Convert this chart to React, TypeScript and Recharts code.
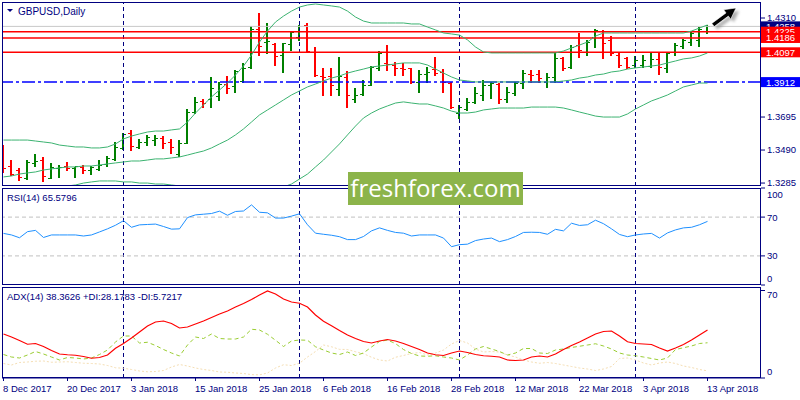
import React from "react";
import { ComposedChart, Line, Bar, XAxis, YAxis, ReferenceLine } from "recharts";

// ---- data ----
const tickBars = [0, 8, 16, 24, 32, 40, 48, 56, 64, 72, 80, 88];
const tickLabels = [
  "8 Dec 2017", "20 Dec 2017", "3 Jan 2018", "15 Jan 2018", "25 Jan 2018", "6 Feb 2018",
  "16 Feb 2018", "28 Feb 2018", "12 Mar 2018", "22 Mar 2018", "3 Apr 2018", "13 Apr 2018",
];
const separatorBars = [15, 37, 57, 79];

const open = [
  1.3490, 1.3391, 1.3366, 1.3317, 1.3410, 1.3428, 1.3317, 1.3379, 1.3391, 1.3379,
  1.3385, 1.3366, 1.3373, 1.3404, 1.3435, 1.3503, 1.3596, 1.3509, 1.3540, 1.3552,
  1.3565, 1.3540, 1.3466, 1.3534, 1.3726, 1.3795, 1.3807, 1.3826, 1.3900, 1.3888,
  1.3919, 1.4006, 1.4242, 1.4161, 1.4149, 1.4080, 1.4149, 1.4192, 1.4267, 1.4099,
  1.3950, 1.3950, 1.3869, 1.3944, 1.3807, 1.3838, 1.3894, 1.4000, 1.4031, 1.4018,
  1.4000, 1.4000, 1.3913, 1.3962, 1.3993, 1.3975, 1.3906, 1.3720, 1.3745, 1.3789,
  1.3832, 1.3894, 1.3900, 1.3807, 1.3844, 1.3906, 1.3962, 1.3962, 1.3913, 1.3944,
  1.4062, 1.4006, 1.4142, 1.4099, 1.4192, 1.4192, 1.4174, 1.4080, 1.4062, 1.4018,
  1.4018, 1.4012, 1.4056, 1.4000, 1.4099, 1.4136, 1.4161, 1.4174, 1.4229,
];
const high = [
  1.3521, 1.3428, 1.3379, 1.3428, 1.3466, 1.3447, 1.3410, 1.3397, 1.3416, 1.3385,
  1.3397, 1.3391, 1.3428, 1.3453, 1.3540, 1.3596, 1.3615, 1.3559, 1.3584, 1.3584,
  1.3577, 1.3559, 1.3552, 1.3745, 1.3820, 1.3807, 1.3944, 1.3913, 1.3950, 1.3987,
  1.4031, 1.4260, 1.4341, 1.4279, 1.4155, 1.4155, 1.4223, 1.4267, 1.4279, 1.4130,
  1.4000, 1.4000, 1.4068, 1.3981, 1.3875, 1.3925, 1.4012, 1.4105, 1.4142, 1.4037,
  1.4031, 1.4000, 1.3987, 1.4006, 1.4068, 1.3993, 1.3913, 1.3770, 1.3813, 1.3882,
  1.3925, 1.3913, 1.3906, 1.3882, 1.3913, 1.3987, 1.3987, 1.3987, 1.3968, 1.4093,
  1.4068, 1.4142, 1.4217, 1.4174, 1.4242, 1.4236, 1.4198, 1.4093, 1.4068, 1.4074,
  1.4080, 1.4093, 1.4093, 1.4099, 1.4155, 1.4180, 1.4223, 1.4254, 1.4267,
];
const low = [
  1.3354, 1.3335, 1.3304, 1.3310, 1.3391, 1.3298, 1.3317, 1.3323, 1.3366, 1.3323,
  1.3348, 1.3341, 1.3366, 1.3391, 1.3428, 1.3497, 1.3490, 1.3503, 1.3521, 1.3521,
  1.3503, 1.3472, 1.3453, 1.3534, 1.3720, 1.3757, 1.3757, 1.3801, 1.3844, 1.3851,
  1.3913, 1.4000, 1.4080, 1.4093, 1.4018, 1.3975, 1.4111, 1.4174, 1.4099, 1.3950,
  1.3832, 1.3832, 1.3832, 1.3757, 1.3789, 1.3832, 1.3894, 1.3987, 1.3987, 1.3956,
  1.3956, 1.3906, 1.3851, 1.3913, 1.3956, 1.3851, 1.3751, 1.3689, 1.3739, 1.3782,
  1.3801, 1.3813, 1.3782, 1.3789, 1.3832, 1.3875, 1.3913, 1.3913, 1.3882, 1.3913,
  1.3987, 1.4000, 1.4068, 1.4080, 1.4130, 1.4062, 1.4080, 1.4006, 1.4000, 1.4006,
  1.4006, 1.4006, 1.3962, 1.3975, 1.4080, 1.4124, 1.4142, 1.4136, 1.4217,
];
const close = [
  1.3379, 1.3341, 1.3323, 1.3416, 1.3422, 1.3329, 1.3385, 1.3385, 1.3379, 1.3391,
  1.3366, 1.3385, 1.3397, 1.3441, 1.3509, 1.3590, 1.3515, 1.3540, 1.3571, 1.3565,
  1.3534, 1.3509, 1.3534, 1.3726, 1.3789, 1.3782, 1.3875, 1.3900, 1.3875, 1.3981,
  1.4000, 1.4242, 1.4136, 1.4167, 1.4074, 1.4155, 1.4223, 1.4229, 1.4105, 1.3956,
  1.3944, 1.3894, 1.3950, 1.3832, 1.3832, 1.3894, 1.4006, 1.4093, 1.4025, 1.4000,
  1.3993, 1.3913, 1.3962, 1.3975, 1.3968, 1.3913, 1.3757, 1.3757, 1.3789, 1.3844,
  1.3894, 1.3906, 1.3807, 1.3851, 1.3906, 1.3968, 1.3956, 1.3937, 1.3944, 1.4062,
  1.4000, 1.4130, 1.4111, 1.4161, 1.4236, 1.4155, 1.4093, 1.4018, 1.4006, 1.4049,
  1.4049, 1.4056, 1.4006, 1.4093, 1.4142, 1.4174, 1.4217, 1.4242, 1.4258,
];

const bbUpper = [
  1.3552, 1.3552, 1.3552, 1.3552, 1.3546, 1.3540, 1.3534, 1.3521, 1.3515, 1.3509,
  1.3509, 1.3503, 1.3503, 1.3509, 1.3528, 1.3559, 1.3577, 1.3590, 1.3602, 1.3608,
  1.3608, 1.3615, 1.3621, 1.3664, 1.3720, 1.3770, 1.3820, 1.3863, 1.3906, 1.3956,
  1.4012, 1.4080, 1.4161, 1.4229, 1.4285, 1.4322, 1.4353, 1.4378, 1.4391, 1.4397,
  1.4391, 1.4385, 1.4378, 1.4353, 1.4316, 1.4291, 1.4279, 1.4279, 1.4279, 1.4279,
  1.4279, 1.4273, 1.4273, 1.4254, 1.4236, 1.4217, 1.4211, 1.4204, 1.4174, 1.4130,
  1.4099, 1.4093, 1.4093, 1.4093, 1.4093, 1.4093, 1.4093, 1.4093, 1.4093, 1.4093,
  1.4105, 1.4124, 1.4142, 1.4161, 1.4198, 1.4217, 1.4217, 1.4217, 1.4217, 1.4217,
  1.4217, 1.4217, 1.4217, 1.4217, 1.4217, 1.4217, 1.4229, 1.4248, 1.4267,
];
const bbMiddle = [
  1.3323, 1.3329, 1.3341, 1.3348, 1.3354, 1.3366, 1.3373, 1.3379, 1.3385, 1.3385,
  1.3391, 1.3391, 1.3397, 1.3404, 1.3410, 1.3416, 1.3422, 1.3422, 1.3428, 1.3435,
  1.3435, 1.3441, 1.3447, 1.3459, 1.3472, 1.3484, 1.3503, 1.3528, 1.3552, 1.3584,
  1.3621, 1.3664, 1.3708, 1.3739, 1.3770, 1.3801, 1.3832, 1.3857, 1.3882, 1.3900,
  1.3919, 1.3937, 1.3950, 1.3968, 1.3981, 1.3993, 1.4006, 1.4012, 1.4018, 1.4025,
  1.4031, 1.4031, 1.4031, 1.4018, 1.3993, 1.3968, 1.3944, 1.3925, 1.3919, 1.3913,
  1.3913, 1.3913, 1.3913, 1.3913, 1.3913, 1.3913, 1.3913, 1.3913, 1.3913, 1.3913,
  1.3919, 1.3925, 1.3937, 1.3944, 1.3956, 1.3962, 1.3975, 1.3981, 1.3993, 1.4000,
  1.4006, 1.4012, 1.4018, 1.4031, 1.4043, 1.4056, 1.4062, 1.4074, 1.4093,
];
const bbLower = [
  1.3211, 1.3223, 1.3229, 1.3236, 1.3242, 1.3248, 1.3254, 1.3261, 1.3267, 1.3273,
  1.3285, 1.3292, 1.3298, 1.3298, 1.3298, 1.3292, 1.3292, 1.3285, 1.3285, 1.3279,
  1.3279, 1.3273, 1.3267, 1.3254, 1.3229, 1.3205, 1.3180, 1.3161, 1.3149, 1.3143,
  1.3149, 1.3161, 1.3186, 1.3217, 1.3242, 1.3261, 1.3279, 1.3310, 1.3341, 1.3385,
  1.3428, 1.3478, 1.3528, 1.3584, 1.3639, 1.3689, 1.3720, 1.3745, 1.3764, 1.3782,
  1.3789, 1.3782, 1.3776, 1.3776, 1.3764, 1.3751, 1.3732, 1.3720, 1.3720, 1.3726,
  1.3739, 1.3745, 1.3751, 1.3751, 1.3751, 1.3751, 1.3757, 1.3757, 1.3757, 1.3757,
  1.3751, 1.3739, 1.3726, 1.3714, 1.3701, 1.3695, 1.3695, 1.3695, 1.3714, 1.3745,
  1.3770, 1.3795, 1.3813, 1.3832, 1.3857, 1.3882, 1.3894, 1.3906, 1.3906,
];

const rsi = [
  53.2, 51.6, 48.7, 55.0, 56.3, 49.0, 51.6, 51.6, 51.6, 51.6,
  50.5, 51.6, 54.7, 57.9, 61.6, 66.3, 59.5, 62.0, 62.4, 62.8,
  60.3, 57.6, 57.9, 69.5, 72.3, 73.0, 73.7, 76.1, 71.9, 75.8,
  76.3, 82.6, 75.0, 74.4, 69.0, 69.0, 71.0, 73.4, 62.1, 53.4,
  52.3, 51.3, 49.8, 46.8, 46.8, 50.0, 55.8, 58.9, 56.3, 54.2,
  53.4, 50.5, 51.6, 51.6, 51.6, 48.4, 39.5, 41.6, 42.1, 45.8,
  47.4, 48.4, 44.7, 46.8, 50.0, 54.2, 54.4, 54.2, 52.3, 57.4,
  55.8, 63.7, 61.4, 62.1, 66.8, 63.2, 57.9, 52.1, 49.8, 51.6,
  52.6, 53.2, 48.4, 53.7, 56.8, 58.9, 59.5, 62.1, 65.58,
];
const adx = [
  35.2, 32.8, 30.0, 27.0, 27.6, 25.2, 22.0, 19.2, 18.6, 18.2,
  17.2, 15.8, 16.4, 18.4, 23.8, 27.6, 32.0, 36.8, 41.6, 44.8,
  45.6, 43.6, 40.0, 40.8, 43.2, 45.6, 48.4, 51.2, 53.6, 56.8,
  59.6, 62.8, 66.4, 69.6, 67.2, 63.2, 60.8, 59.8, 56.8, 50.4,
  45.4, 41.8, 38.0, 34.4, 31.6, 29.2, 28.0, 29.6, 30.8, 29.6,
  27.6, 25.2, 22.8, 20.0, 18.6, 18.0, 20.0, 21.6, 20.4, 18.8,
  17.8, 17.4, 16.8, 14.4, 14.0, 14.4, 16.8, 17.6, 16.8, 19.2,
  22.8, 26.0, 28.8, 32.0, 35.2, 37.2, 37.6, 33.6, 29.0, 27.6,
  27.2, 26.8, 24.0, 21.6, 24.0, 26.8, 30.4, 34.4, 38.36,
];
const plusDi = [
  18.8, 16.8, 16.0, 18.4, 21.2, 19.2, 16.8, 14.4, 16.4, 16.0,
  15.2, 16.0, 18.8, 22.4, 28.8, 33.6, 33.6, 28.0, 28.6, 26.0,
  22.8, 20.0, 17.6, 26.4, 32.8, 31.6, 35.2, 31.6, 31.2, 31.2,
  32.8, 39.0, 38.4, 35.0, 30.2, 25.2, 29.6, 30.4, 30.2, 25.0,
  22.4, 20.0, 18.8, 20.8, 18.0, 20.0, 24.8, 29.2, 30.4, 27.5,
  22.8, 19.6, 17.6, 17.4, 17.8, 16.8, 16.0, 14.4, 18.4, 23.2,
  25.2, 23.2, 21.2, 18.4, 20.0, 23.6, 23.6, 20.0, 19.6, 22.4,
  23.2, 24.4, 25.4, 26.4, 27.4, 25.6, 23.2, 20.0, 18.4, 17.8,
  16.8, 15.6, 14.4, 16.0, 22.8, 24.2, 25.6, 27.6, 28.18,
];
const minusDi = [
  11.6, 10.4, 12.4, 12.8, 13.4, 13.6, 12.6, 12.8, 13.0, 12.4,
  11.8, 11.6, 11.2, 10.0, 8.2, 7.8, 6.8, 5.6, 5.0, 5.2,
  6.0, 8.8, 10.8, 9.6, 8.0, 6.8, 6.0, 4.8, 4.6, 4.0,
  3.6, 2.7, 2.5, 4.0, 8.0, 10.6, 10.0, 11.8, 16.8, 21.2,
  26.4, 25.0, 22.9, 22.8, 21.0, 19.5, 16.6, 14.4, 13.6, 16.6,
  18.0, 19.6, 20.4, 18.4, 20.0, 22.4, 27.2, 30.0, 28.0, 23.2,
  20.8, 21.2, 20.8, 18.4, 16.8, 14.4, 12.8, 11.8, 12.4, 11.6,
  10.4, 9.2, 8.0, 7.2, 6.0, 7.2, 9.2, 15.6, 16.0, 14.4,
  12.0, 10.4, 12.0, 12.8, 11.6, 9.6, 8.4, 6.8, 5.72,
];

const priceTicks = [1.3285, 1.349, 1.3695, 1.431];
const bidPrice = 1.4258;
const redLevels = [1.4225, 1.4186, 1.4097];
const blueLevel = 1.3912;
const rsiTicks = [0, 30, 70, 100];
const adxTicks = [0, 70];

const titleText = "GBPUSD,Daily";
const rsiText = "RSI(14) 65.5796";
const adxText = "ADX(14) 38.3626 +DI:28.1783 -DI:5.7217";

// ---- styles ----
const FONT = "'Liberation Sans', Arial, sans-serif";
const FS = 9.5;
const NAVY = "#000080";
const UP = "#008000";
const DOWN = "#ff0000";
const BB = "#3cb371";
// bar i sits at x = 3.5 + 8i so 1px separators land on a pixel centre
const X_DOMAIN: [number, number] = [-0.1875, 94.6875];
const AXIS_W = 39;

const priceData = open.map((o, i) => ({
  i,
  open: o,
  high: high[i],
  low: low[i],
  close: close[i],
  range: [low[i], high[i]],
  up: bbUpper[i],
  mid: bbMiddle[i],
  lo: bbLower[i],
}));
const rsiData = rsi.map((v, i) => ({ i, rsi: v }));
const adxData = adx.map((v, i) => ({ i, adx: v, pdi: plusDi[i], mdi: minusDi[i] }));

function OhlcBar(props: any) {
  const { x, y, width, height, payload } = props;
  if (!payload || x == null || y == null) return null;
  const top = Math.min(y, y + height);
  const bottom = Math.max(y, y + height);
  const span = payload.high - payload.low;
  const at = (v: number) => (span > 0 ? top + ((payload.high - v) / span) * (bottom - top) : top);
  const cx = Math.floor(x + width / 2);
  const color = payload.close >= payload.open ? UP : DOWN;
  const oy = Math.round(at(payload.open)) + 0.5;
  const cy = Math.round(at(payload.close)) + 0.5;
  return (
    <g>
      <line x1={cx} x2={cx} y1={Math.round(top)} y2={Math.round(bottom) + 1} stroke={color} strokeWidth={2} />
      <line x1={cx - 3} x2={cx} y1={oy} y2={oy} stroke={color} strokeWidth={1} />
      <line x1={cx} x2={cx + 3} y1={cy} y2={cy} stroke={color} strokeWidth={1} />
    </g>
  );
}

function PriceTag(props: any) {
  const { viewBox, price, color } = props;
  if (!viewBox) return null;
  const left = viewBox.x + viewBox.width;
  const y = viewBox.y;
  return (
    <g>
      <rect x={left} y={y - 5} width={AXIS_W} height={10} fill={color} />
      <text x={left + 5} y={y} dy="0.36em" fill="#ffffff" fontSize={FS} fontFamily={FONT}>
        {price.toFixed(4)}
      </text>
    </g>
  );
}

const makeTick = (offsets: Record<string, number>, fmt: (v: number) => string) => (props: any) => {
  const { x, y, payload } = props;
  const dy = offsets[String(payload.value)] ?? 0;
  return (
    <text x={x} y={y + dy} dy="0.36em" fill={NAVY} fontSize={FS} fontFamily={FONT} textAnchor="start">
      {fmt(payload.value)}
    </text>
  );
};
const PriceTick = makeTick({}, (v) => v.toFixed(4));
const RsiTick = makeTick({ "100": 7, "0": -6 }, (v) => String(v));
const AdxTick = makeTick({ "70": 4, "0": -6 }, (v) => String(v));

function DateTick(props: any) {
  const { x, y, payload } = props;
  const k = tickBars.indexOf(payload.value);
  return (
    <text x={x - 0.5} y={y} dy={9} fill={NAVY} fontSize={FS} fontFamily={FONT} textAnchor="start">
      {tickLabels[k]}
    </text>
  );
}

const separators = (key: string) =>
  separatorBars.map((b) => (
    <ReferenceLine key={key + b} x={b} stroke={NAVY} strokeDasharray="4 3" strokeWidth={1} />
  ));

const yAxisCommon = {
  orientation: "right" as const,
  width: AXIS_W,
  axisLine: false,
  tickSize: 4,
  tickLine: { stroke: NAVY },
  allowDataOverflow: true,
  interval: 0 as const,
};

export default function App() {
  return (
    <div style={{ position: "absolute", left: 0, top: 0, width: 800, height: 400, background: "#fff", overflow: "hidden" }}>
      {/* price panel */}
      <div style={{ position: "absolute", left: 0, top: 0 }}>
        <ComposedChart width={800} height={190} data={priceData} margin={{ top: 2, right: 0, bottom: 4, left: 2 }}>
          <XAxis dataKey="i" type="number" domain={X_DOMAIN} hide allowDataOverflow />
          <YAxis {...yAxisCommon} domain={[1.32667, 1.44094]} ticks={priceTicks} tick={PriceTick} />
          {separators("p")}
          <ReferenceLine y={bidPrice} stroke="#c8c8c8" strokeWidth={1} label={<PriceTag price={bidPrice} color={NAVY} />} />
          {redLevels.map((v) => (
            <ReferenceLine key={v} y={v} stroke="#ff0000" strokeWidth={1.5} label={<PriceTag price={v} color="#ff0000" />} />
          ))}
          <ReferenceLine y={blueLevel} stroke="#0000ff" strokeWidth={1.5} strokeDasharray="13 3 3 3" label={<PriceTag price={blueLevel} color="#0000ff" />} />
          <Line dataKey="up" stroke={BB} strokeWidth={1} dot={false} activeDot={false} isAnimationActive={false} type="linear" />
          <Line dataKey="mid" stroke={BB} strokeWidth={1} dot={false} activeDot={false} isAnimationActive={false} type="linear" />
          <Line dataKey="lo" stroke={BB} strokeWidth={1} dot={false} activeDot={false} isAnimationActive={false} type="linear" />
          <Bar dataKey="range" barSize={4} shape={<OhlcBar />} isAnimationActive={false} />
        </ComposedChart>
      </div>

      {/* RSI panel */}
      <div style={{ position: "absolute", left: 0, top: 186 }}>
        <ComposedChart width={800} height={101} data={rsiData} margin={{ top: 2, right: 0, bottom: 2, left: 2 }}>
          <XAxis dataKey="i" type="number" domain={X_DOMAIN} hide allowDataOverflow />
          <YAxis {...yAxisCommon} domain={[0, 100]} ticks={rsiTicks} tick={RsiTick} />
          {separators("r")}
          <ReferenceLine y={70} stroke="#c0c0c0" strokeDasharray="4 3" />
          <ReferenceLine y={30} stroke="#c0c0c0" strokeDasharray="4 3" />
          <Line dataKey="rsi" stroke="#1e90ff" strokeWidth={1} dot={false} activeDot={false} isAnimationActive={false} type="linear" />
        </ComposedChart>
      </div>

      {/* ADX panel */}
      <div style={{ position: "absolute", left: 0, top: 285 }}>
        <ComposedChart width={800} height={115} data={adxData} margin={{ top: 2, right: 0, bottom: 0, left: 2 }}>
          <XAxis
            dataKey="i"
            type="number"
            domain={X_DOMAIN}
            allowDataOverflow
            ticks={tickBars}
            interval={0}
            height={22}
            tickSize={3}
            axisLine={{ stroke: NAVY }}
            tickLine={{ stroke: NAVY }}
            tick={DateTick}
          />
          <YAxis {...yAxisCommon} domain={[0, 72.8]} ticks={adxTicks} tick={AdxTick} />
          {separators("a")}
          <Line dataKey="mdi" stroke="#f5deb3" strokeWidth={1} strokeDasharray="2 2" dot={false} activeDot={false} isAnimationActive={false} type="linear" />
          <Line dataKey="pdi" stroke="#9acd32" strokeWidth={1} strokeDasharray="4 3" dot={false} activeDot={false} isAnimationActive={false} type="linear" />
          <Line dataKey="adx" stroke="#ff0000" strokeWidth={1.2} dot={false} activeDot={false} isAnimationActive={false} type="linear" />
        </ComposedChart>
      </div>

      {/* panel frames, titles, cursor */}
      <svg width={800} height={400} style={{ position: "absolute", left: 0, top: 0, pointerEvents: "none" }}>
        <g fill="none" stroke={NAVY} strokeWidth={1}>
          <rect x={2.5} y={2.5} width={758} height={183} />
          <rect x={2.5} y={188.5} width={758} height={96} />
          <rect x={2.5} y={287.5} width={758} height={90} />
        </g>
        <polygon points="7,9 13,9 10,12" fill={NAVY} />
        <text x={18} y={15} fill={NAVY} fontSize={10} fontFamily={FONT}>{titleText}</text>
        <text x={7} y={201} fill={NAVY} fontSize={FS} fontFamily={FONT}>{rsiText}</text>
        <text x={7} y={300} fill={NAVY} fontSize={FS} fontFamily={FONT}>{adxText}</text>
        <defs>
          <filter id="sh" x="-50%" y="-50%" width="200%" height="200%">
            <feGaussianBlur stdDeviation="1.6" />
          </filter>
        </defs>
        <polygon
          points="739,11 726.7,12.7 729,15.9 714.8,26.4 717.2,29.6 731.4,19.1 733.7,22.3"
          fill="#777"
          opacity={0.6}
          filter="url(#sh)"
        />
        <polygon points="736,8 723.7,9.7 726,12.9 711.8,23.4 714.2,26.6 728.4,16.1 730.7,19.3" fill="#000" stroke="#fff" strokeWidth={0.6} />
      </svg>

      {/* watermark */}
      <div
        style={{
          position: "absolute",
          left: 348,
          top: 172,
          width: 175,
          height: 33,
          background: "#8cb44a",
          color: "#fff",
          fontFamily: "'Open Sans', sans-serif",
          fontSize: 24,
          lineHeight: "31px",
          textAlign: "center",
        }}
      >
        freshforex.com
      </div>
    </div>
  );
}
